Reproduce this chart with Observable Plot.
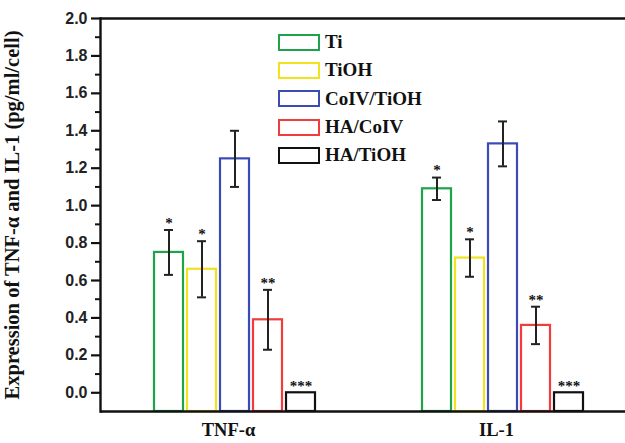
<!DOCTYPE html>
<html><head><meta charset="utf-8">
<script src="https://cdn.jsdelivr.net/npm/d3@7"></script>
<script src="https://cdn.jsdelivr.net/npm/@observablehq/plot@0.6"></script>
<style>
body{margin:0;background:#fff;}
#wrap{position:relative;width:625px;height:443px;overflow:hidden;background:#fff;}
.legend{position:absolute;left:278px;top:28px;font-family:"Liberation Serif","Times New Roman",serif;font-weight:bold;font-size:19px;color:#111;}
.row{display:flex;align-items:center;height:28.3px;}
.sw{width:38px;height:13px;border:2px solid;margin-right:5px;background:#fff;box-sizing:content-box;}
</style></head><body><div id="wrap"></div>
<script>
const categories = ["TNF-α", "IL-1"];
const series = ["Ti", "TiOH", "CoIV/TiOH", "HA/CoIV", "HA/TiOH"];
const colors = ["#1fa34a", "#f0e21e", "#3a4cb4", "#f23b3b", "#111111"];
const tnfMeans = [0.75, 0.66, 1.25, 0.39, 0];
const tnfErrors = [0.12, 0.15, 0.15, 0.16, 0];
const tnfSignif = ["*", "*", "", "**", "***"];
const il1Means = [1.09, 0.72, 1.33, 0.36, 0];
const il1Errors = [0.06, 0.10, 0.12, 0.10, 0];
const il1Signif = ["*", "*", "", "**", "***"];
const yTicks = [0.0, 0.2, 0.4, 0.6, 0.8, 1.0, 1.2, 1.4, 1.6, 1.8, 2.0];
const yMinorTicks = [0.1, 0.3, 0.5, 0.7, 0.9, 1.1, 1.3, 1.5, 1.7, 1.9];
const yMin = -0.1, yMax = 2.0;
const yTitle = "Expression of TNF-α and IL-1 (pg/ml/cell)";

const rows = [];
series.forEach((s, i) => {
  rows.push({cat: categories[0], series: s, mean: tnfMeans[i], err: tnfErrors[i], sig: tnfSignif[i]});
  rows.push({cat: categories[1], series: s, mean: il1Means[i], err: il1Errors[i], sig: il1Signif[i]});
});
const withErr = rows.filter(d => d.err > 0);

const serif = '"Liberation Serif","Times New Roman",serif';
const sans = '"Liberation Sans",Arial,sans-serif';

const chart = Plot.plot({
  width: 625, height: 443,
  marginLeft: 100, marginRight: 0, marginTop: 18, marginBottom: 32,
  style: {background: "white", fontFamily: sans, color: "#111"},
  fx: {domain: categories, range: [100, 636.4], padding: 0},
  x: {domain: series, axis: null, paddingInner: 0.13, paddingOuter: 1.59},
  y: {domain: [yMin, yMax]},
  color: {domain: series, range: colors},
  marks: [
    Plot.barY(rows, {fx: "cat", x: "series", y1: yMin, y2: "mean", fill: "white", stroke: "series", strokeWidth: 2.2}),
    Plot.ruleX(withErr, {fx: "cat", x: "series", y1: d => d.mean - d.err, y2: d => d.mean + d.err, stroke: "#222", strokeWidth: 2}),
    Plot.tickY(withErr, {fx: "cat", x: "series", y: d => d.mean + d.err, stroke: "#222", strokeWidth: 2, insetLeft: 10, insetRight: 10}),
    Plot.tickY(withErr, {fx: "cat", x: "series", y: d => d.mean - d.err, stroke: "#222", strokeWidth: 2, insetLeft: 10, insetRight: 10}),
    Plot.text(rows, {fx: "cat", x: "series", y: d => d.mean + d.err, text: "sig", dy: -7, fontSize: 15, fontWeight: "bold", fontFamily: serif, fill: "#111"}),
    Plot.ruleY([yMin, yMax], {stroke: "#111", strokeWidth: 2.4}),
    Plot.frame({anchor: "left", facetAnchor: "left", stroke: "#111", strokeWidth: 2.4}),
    Plot.axisY({ticks: yMinorTicks, tickSize: 5, strokeWidth: 2, text: null, label: null, stroke: "#111"}),
    Plot.axisY({ticks: yTicks, tickSize: 9, tickPadding: 4, strokeWidth: 2.2, stroke: "#111", tickFormat: d3.format(".1f"), fontSize: 16, fontWeight: "bold", fontFamily: sans, fill: "#222", label: null}),
    Plot.axisY({ticks: [], label: yTitle, labelAnchor: "center", labelArrow: "none", labelOffset: 96, fontSize: 20.5, fontWeight: "bold", fontFamily: serif, fill: "#111"}),
    Plot.axisFx({anchor: "bottom", tickSize: 0, tickPadding: 11, dx: -6, label: null, fontSize: 18.5, fontWeight: "bold", fontFamily: serif, fill: "#111"})
  ]
});

const wrap = document.getElementById("wrap");
wrap.appendChild(chart);
const legend = document.createElement("div");
legend.className = "legend";
series.forEach((s, i) => {
  const row = document.createElement("div");
  row.className = "row";
  const sw = document.createElement("span");
  sw.className = "sw";
  sw.style.borderColor = colors[i];
  const t = document.createElement("span");
  t.textContent = s;
  row.appendChild(sw); row.appendChild(t);
  legend.appendChild(row);
});
wrap.appendChild(legend);
</script>
</body></html>
